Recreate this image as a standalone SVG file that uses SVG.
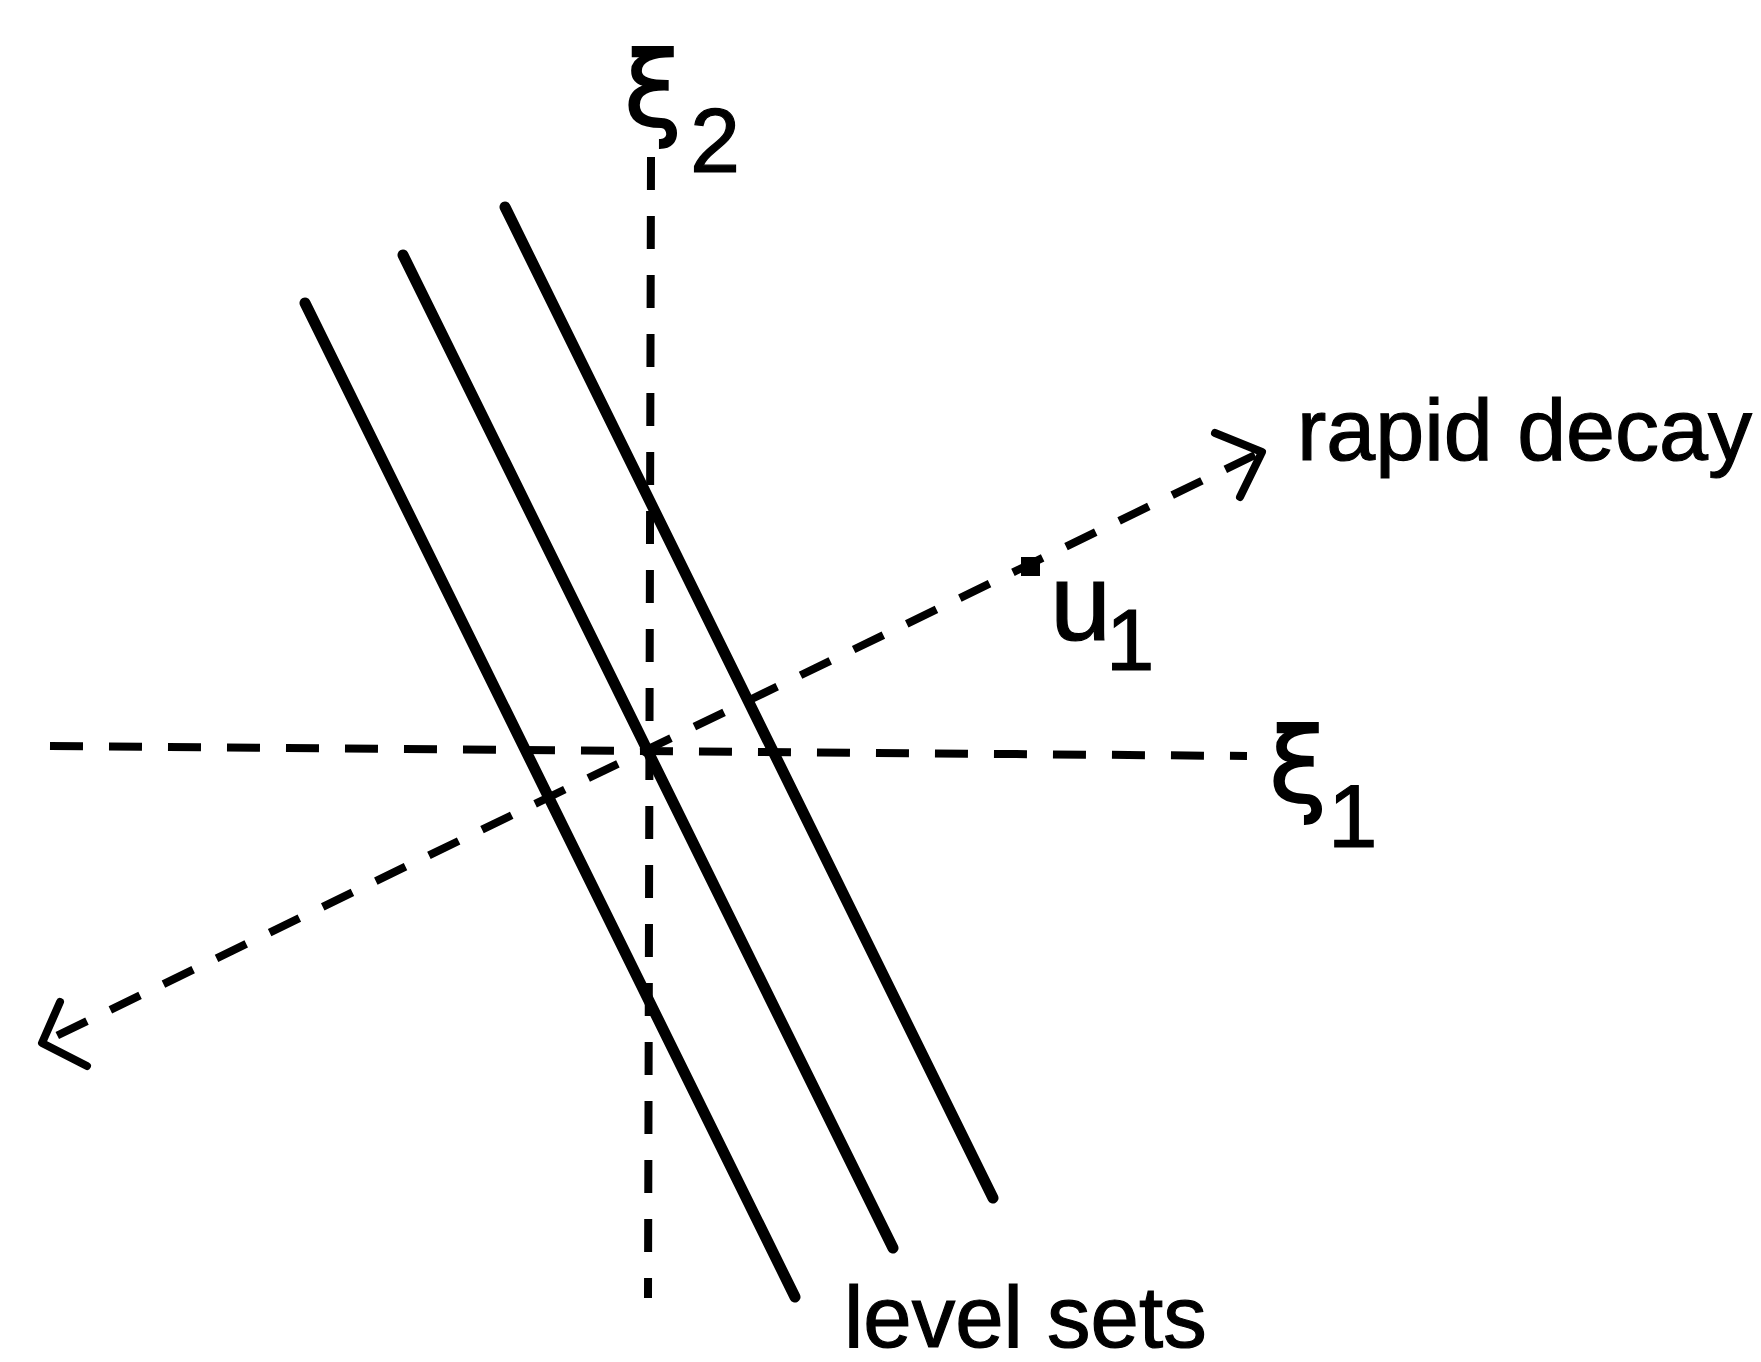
<svg xmlns="http://www.w3.org/2000/svg" width="1761" height="1362" viewBox="0 0 1761 1362">
<style>
.dash{fill:none;stroke:#000;stroke-width:8;stroke-dasharray:33 26;stroke-linecap:butt}
.solid{fill:none;stroke:#000;stroke-width:11;stroke-linecap:round}
.head{fill:none;stroke:#000;stroke-width:8;stroke-linecap:round;stroke-linejoin:round}
.lbl{font-family:"Liberation Sans",Arial,sans-serif;fill:#000;stroke:#000;stroke-width:1.2}
.greek{font-family:"DejaVu Sans","Liberation Sans",sans-serif;stroke-width:2}
</style>
<rect width="1761" height="1362" fill="#fff"/>
<g id="axes">
<line id="xi2-axis" class="dash" x1="651" y1="157" x2="648" y2="1298"/>
<line id="xi1-axis" class="dash" x1="50" y1="746" x2="1247" y2="756"/>
</g>
<g id="level-sets">
<line class="solid" x1="305" y1="303" x2="795" y2="1297"/>
<line class="solid" x1="403" y1="255" x2="893" y2="1248"/>
<line class="solid" x1="505" y1="207" x2="993" y2="1198"/>
</g>
<g id="connectors">
<line id="decay-direction" class="dash" x1="1255" y1="455" x2="48" y2="1040"/>
<polyline class="head" points="1215,433 1262,452 1240,497"/>
<polyline class="head" points="60,1002 42,1043 87,1066"/>
</g>
<g id="u1-point">
<rect x="1021" y="557" width="19" height="19" fill="#000"/>
</g>
<g id="labels">
<text id="xi2-label" class="lbl"><tspan class="greek" x="624" y="126" font-size="104">ξ</tspan><tspan x="690" y="172" font-size="90">2</tspan></text>
<text id="xi1-label" class="lbl"><tspan class="greek" x="1269" y="802" font-size="104">ξ</tspan><tspan x="1328" y="847" font-size="89">1</tspan></text>
<text id="u1-label" class="lbl"><tspan x="1050" y="640" font-size="110">u</tspan><tspan x="1106" y="670" font-size="87">1</tspan></text>
<text id="rapid-decay-label" class="lbl" x="1297" y="460" font-size="88">rapid decay</text>
<text id="level-sets-label" class="lbl" x="844" y="1347" font-size="87">level sets</text>
</g>
</svg>
